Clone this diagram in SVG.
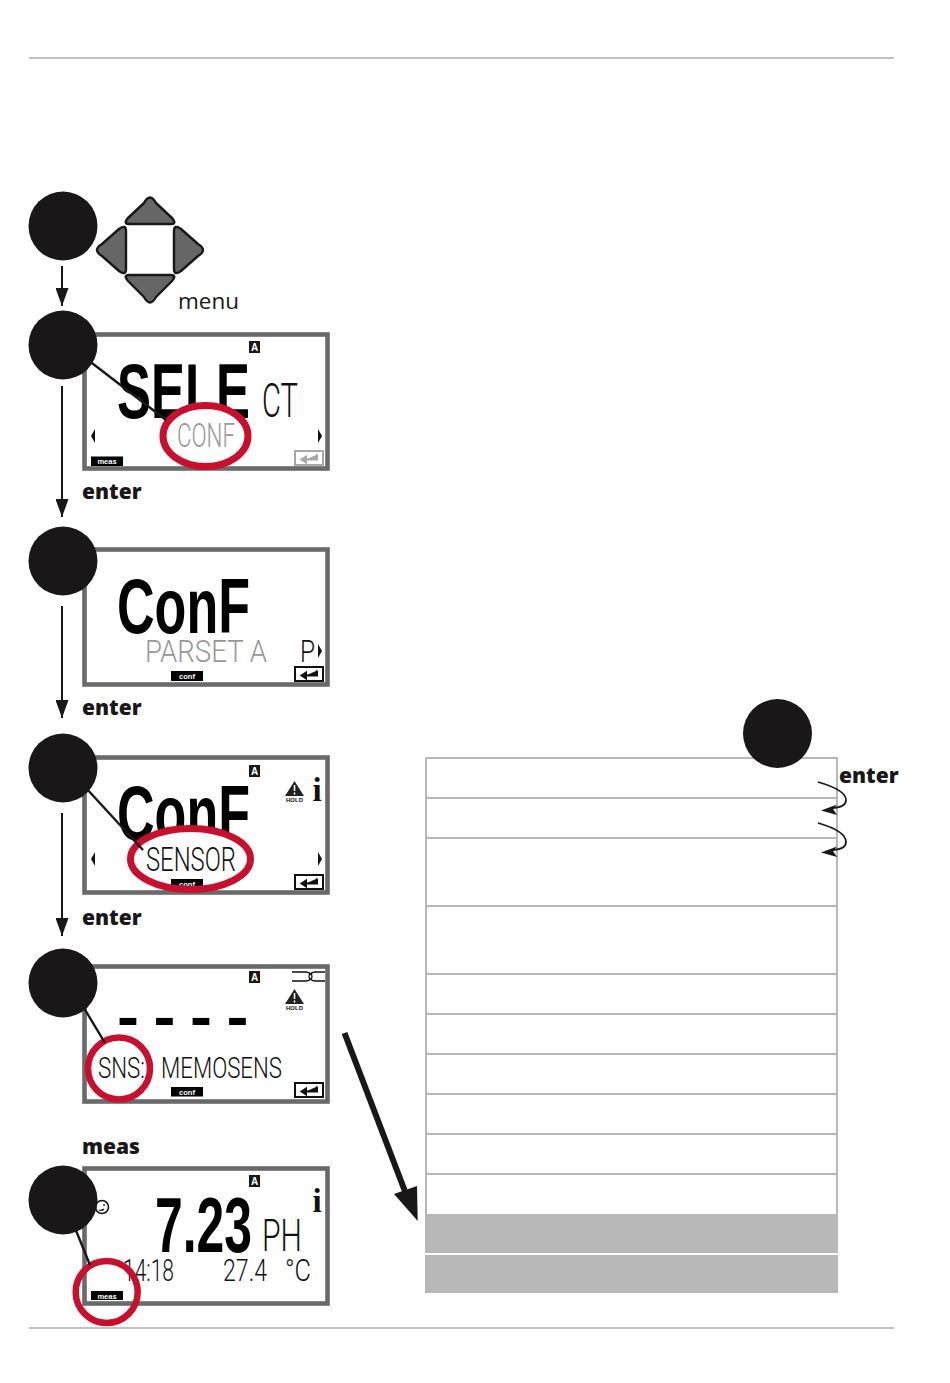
<svg xmlns="http://www.w3.org/2000/svg" width="950" height="1383" viewBox="0 0 950 1383">
<style>
.bg{fill:#fff}
.rule{stroke:#c2c2c2;stroke-width:2;fill:none}
.badge{fill:#1a1718}
.lcd{fill:#fff;stroke:#6a6a6a;stroke-width:4.6}
.step{fill:#1a1718}
.key{fill:#666;stroke:#1a1718;stroke-width:2.4;stroke-linejoin:round}
.flow{stroke:#1a1718;stroke-width:2;fill:none;marker-end:url(#head)}
.call{stroke:#1a1718;stroke-width:2.4;fill:none}
.ringf{fill:#fff;stroke:none}
.ring{fill:none;stroke:#c8102e;stroke-width:7}
.lab{font-family:"Open Sans","Noto Sans",sans-serif;fill:#1a1718}
.b{font-weight:800;font-size:21px}
.big{font-family:"Liberation Sans",sans-serif;font-weight:700;fill:#000}
.thin{font-family:Roboto,"Liberation Sans",sans-serif;font-weight:300;fill:#111}
.gr{fill:#989898}
.tag{fill:#fff;font-family:"Liberation Sans",sans-serif;font-weight:700;font-size:7.5px;text-anchor:middle}
.tagbg{fill:#000}
.a{fill:#fff;font-family:"Liberation Sans",sans-serif;font-weight:700;font-size:10px;text-anchor:middle}
.hold{fill:#111;font-family:"Liberation Sans",sans-serif;font-weight:700;font-size:6px;text-anchor:middle}
.i{fill:#111;font-family:"Liberation Serif",serif;font-weight:700;font-size:33px;text-anchor:middle}
.tbl{fill:none;stroke:#b8b8b8;stroke-width:2}
.shade{fill:#b8b8b8}
</style>
<defs>
<marker id="head" markerUnits="userSpaceOnUse" markerWidth="18" markerHeight="13" refX="18" refY="6.500" viewBox="0 0 18 13" orient="auto"><path d="M0 0L18 6.500L0 13Z" fill="#1a1718"/></marker>
<g id="enterkey"><rect x="295" y="0" width="28" height="14" fill="#fff" stroke="currentColor" stroke-width="2"/><path d="M317 3.500V8.500H306M306 5.500L301.500 8.500L306 11.500Z" fill="currentColor" stroke="currentColor" stroke-width="2"/></g>
<g id="holdicon"><path d="M9.500 0L19 15H0Z" fill="#222"/><path d="M9.500 4V10M9.500 11.500V13.500" stroke="#fff" stroke-width="1.600"/><text class="hold" x="9.500" y="21">HOLD</text></g>
<path id="tl" d="M4 -7V7L0 0Z" fill="#111"/>
<path id="tr" d="M0 -7V7L4 0Z" fill="#111"/>
</defs>
<rect class="bg" width="950" height="1383"/>
<g id="page-rules"><path class="rule" d="M29 58H894M29 1328H894"/></g>

<g id="keypad">
<path class="key" d="M144 203Q150 192 156 203L172 218Q177 224 171 224H129Q123 224 128 218Z"/>
<path class="key" d="M102 244Q92 250 102 256L119 271Q126 276 126 269V231Q126 224 119 229Z"/>
<path class="key" d="M198 244Q208 250 198 256L181 271Q174 276 174 269V231Q174 224 181 229Z"/>
<path class="key" d="M144 297Q150 308 156 297L172 281Q177 275 171 275H129Q123 275 128 281Z"/>
<text class="lab" x="178" y="309" font-size="22.500">menu</text>
</g>

<g id="display-select">
<rect class="lcd" x="84.500" y="334.500" width="243" height="134"/>
<rect class="badge" x="249" y="341" width="11" height="12"/><text class="a" x="254.500" y="351">A</text>
<text class="big" x="117" y="418" font-size="78" textLength="133" lengthAdjust="spacingAndGlyphs">SELE</text>
<ellipse class="ringf" cx="205.500" cy="436" rx="42.500" ry="30.500"/>
<text class="thin" x="262" y="417" font-size="48" textLength="36" lengthAdjust="spacingAndGlyphs">CT</text>
<text class="thin gr" x="177" y="447" font-size="34" textLength="58" lengthAdjust="spacingAndGlyphs">CONF</text>
<use href="#tl" x="91" y="436"/><use href="#tr" x="318" y="436"/>
<rect class="tagbg" x="91" y="456.500" width="32" height="9.500"/><text class="tag" x="107" y="464">meas</text>
<use href="#enterkey" y="451" style="color:#a8a8a8"/>
<ellipse class="ring" cx="205.500" cy="436" rx="42.500" ry="30.500"/>
</g>

<g id="display-conf">
<rect class="lcd" x="84.500" y="549.500" width="243" height="135"/>
<text class="big" x="117" y="633" font-size="78" textLength="133" lengthAdjust="spacingAndGlyphs">ConF</text>
<text class="thin gr" x="145" y="662" font-size="32" textLength="122" lengthAdjust="spacingAndGlyphs">PARSET A</text>
<text class="thin" x="300" y="662" font-size="32" textLength="15" lengthAdjust="spacingAndGlyphs">P</text>
<use href="#tr" x="318" y="651"/>
<rect class="tagbg" x="171" y="671" width="32" height="10"/><text class="tag" x="187" y="679">conf</text>
<use href="#enterkey" y="667" style="color:#111"/>
</g>

<g id="display-sensor">
<rect class="lcd" x="84.500" y="757.500" width="243" height="135"/>
<rect class="badge" x="249" y="765" width="11" height="12"/><text class="a" x="254.500" y="775">A</text>
<use href="#holdicon" x="285" y="781"/>
<text class="i" x="317" y="801">i</text>
<text class="big" x="117" y="840" font-size="78" textLength="133" lengthAdjust="spacingAndGlyphs">ConF</text>
<ellipse class="ringf" cx="190.500" cy="859" rx="60" ry="28"/>
<text class="thin" x="146" y="871" font-size="33" textLength="90" lengthAdjust="spacingAndGlyphs">SENSOR</text>
<use href="#tl" x="91" y="859"/><use href="#tr" x="318" y="859"/>
<rect class="tagbg" x="171" y="879" width="32" height="10"/><text class="tag" x="187" y="887">conf</text>
<use href="#enterkey" y="875" style="color:#111"/>
<ellipse class="ring" cx="190.500" cy="859" rx="60" ry="30.500"/>
</g>

<g id="display-memosens">
<rect class="lcd" x="84.500" y="966.500" width="243" height="135"/>
<rect class="badge" x="249" y="971" width="11" height="12"/><text class="a" x="254.500" y="981">A</text>
<path d="M292 972H306Q312 973 312 976.500Q312 980 306 981H292M325 972H315Q309 973 309 976.500Q309 980 315 981H325" fill="none" stroke="#111" stroke-width="1.300"/>
<use href="#holdicon" x="285" y="989"/>
<text class="big" transform="translate(117,1037) scale(1,.9)" font-size="66" letter-spacing="14.500">----</text>
<ellipse class="ringf" cx="119" cy="1068.500" rx="28" ry="28"/>
<text class="thin" x="98" y="1078" font-size="29" textLength="47" lengthAdjust="spacingAndGlyphs">SNS:</text>
<text class="thin" x="161" y="1078" font-size="29" textLength="121" lengthAdjust="spacingAndGlyphs">MEMOSENS</text>
<rect class="tagbg" x="171" y="1087" width="32" height="9.500"/><text class="tag" x="187" y="1094.500">conf</text>
<use href="#enterkey" y="1083" style="color:#111"/>
<circle class="ring" cx="119" cy="1068.500" r="31" style="stroke-width:6.500"/>
</g>

<g id="display-ph">
<rect class="lcd" x="84.500" y="1168.500" width="243" height="135"/>
<rect class="badge" x="249" y="1175" width="11" height="12"/><text class="a" x="254.500" y="1185">A</text>
<circle cx="102" cy="1207" r="6.500" fill="none" stroke="#111" stroke-width="1.500"/>
<path d="M104 1204V1206M104 1209Q102 1211 99 1210" fill="none" stroke="#111" stroke-width="1.300"/>
<text class="i" x="317" y="1212">i</text>
<text class="big" x="155" y="1252" font-size="77" textLength="97" lengthAdjust="spacingAndGlyphs">7.23</text>
<text class="thin" x="262" y="1251" font-size="44" textLength="40" lengthAdjust="spacingAndGlyphs">PH</text>
<text class="thin" x="123" y="1281" font-size="31" textLength="51" lengthAdjust="spacingAndGlyphs">14:18</text>
<text class="thin" x="223" y="1281" font-size="31" textLength="44" lengthAdjust="spacingAndGlyphs">27.4</text>
<text class="thin" x="285" y="1281" font-size="31" textLength="26" lengthAdjust="spacingAndGlyphs">°C</text>
<rect class="tagbg" x="91" y="1291" width="32" height="9"/><text class="tag" x="107" y="1298.500">meas</text>
<circle class="ring" cx="106.700" cy="1292" r="31" style="stroke-width:6.500"/>
</g>

<g id="labels">
<text class="lab b" x="82" y="499">enter</text>
<text class="lab b" x="82" y="715">enter</text>
<text class="lab b" x="82" y="925">enter</text>
<text class="lab b" x="82" y="1154">meas</text>
<text class="lab b" x="839" y="783">enter</text>
</g>

<g id="table">
<path class="tbl" d="M426 758H837V1214M426 758V1214M426 798H837M426 838H837M426 906H837M426 974H837M426 1014H837M426 1054H837M426 1094H837M426 1134H837M426 1174H837"/>
<rect class="shade" x="425" y="1214" width="413" height="39"/>
<rect class="shade" x="425" y="1255" width="413" height="38"/>
</g>

<g id="connectors">
<path class="flow" d="M62 266V306"/>
<path class="flow" d="M62 386V517"/>
<path class="flow" d="M62 606V718"/>
<path class="flow" d="M62 813V936"/>
<path class="call" d="M88 360L166 420"/>
<path class="call" d="M86 788L143 850"/>
<path class="call" d="M84 1008L105 1043"/>
<path class="call" d="M75 1228L90 1265"/>
<path d="M344.500 1033L406 1194" stroke="#1a1718" stroke-width="6" fill="none"/>
<path d="M417.700 1221L394 1194L417 1186Z" fill="#1a1718"/>
<path d="M818 782Q846 790 846 800Q846 807 833 808" fill="none" stroke="#1a1718" stroke-width="1.800"/>
<path d="M821 810.500L837 804.500L833 809L837 815Z" fill="#1a1718"/>
<path d="M818 823Q846 831 846 842Q846 849 833 850" fill="none" stroke="#1a1718" stroke-width="1.800"/>
<path d="M821 852.500L837 846.500L833 851L837 857Z" fill="#1a1718"/>
</g>

<g id="step-1"><circle class="step" cx="63" cy="226" r="34.500"/></g>
<g id="step-2"><circle class="step" cx="63" cy="345" r="34.500"/></g>
<g id="step-3"><circle class="step" cx="63" cy="561" r="34.500"/></g>
<g id="step-4"><circle class="step" cx="63" cy="768" r="34.500"/></g>
<g id="step-5"><circle class="step" cx="63" cy="983" r="34.500"/></g>
<g id="step-6"><circle class="step" cx="63" cy="1200" r="34.500"/></g>
<g id="step-7"><circle class="step" cx="777.500" cy="733.500" r="34.500"/></g>
</svg>
